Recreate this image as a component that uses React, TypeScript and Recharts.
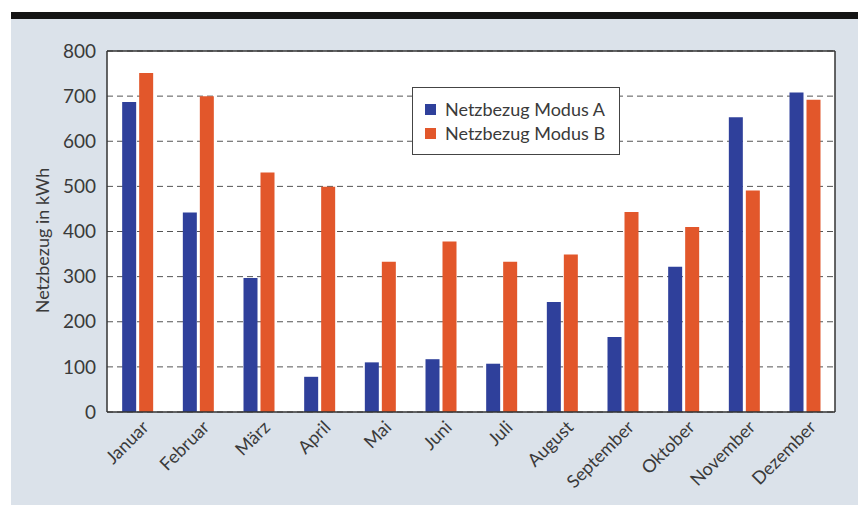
import React from 'react'
import { BarChart, Bar, XAxis, YAxis, CartesianGrid, Legend } from 'recharts'

const months = ['Januar', 'Februar', 'März', 'April', 'Mai', 'Juni', 'Juli', 'August', 'September', 'Oktober', 'November', 'Dezember']
const modusA = [687, 442, 297, 78, 110, 117, 107, 244, 166, 322, 653, 708]
const modusB = [751, 700, 531, 499, 333, 378, 333, 349, 443, 410, 491, 692]
const yTicks = [0, 100, 200, 300, 400, 500, 600, 700, 800]

const data = months.map((m, i) => ({ month: m, a: modusA[i], b: modusB[i] }))

const FONT = 'Lato, "Open Sans", sans-serif'
const TEXT = '#3a3a3a'
const BLUE = '#2f409b'
const ORANGE = '#e2572b'

const MonthTick = (props: any) => {
  const { x, y, payload } = props
  return (
    <g transform={`translate(${x + 8},${y + 10})`}>
      <text
        textAnchor="end"
        transform="rotate(-45)"
        fontSize={18}
        fontFamily={FONT}
        fill={TEXT}
        dy="0.35em"
      >
        {payload.value}
      </text>
    </g>
  )
}

// rotated axis title, sits a bit below the plot's middle like the original
const YTitle = (props: any) => {
  const { viewBox } = props
  const cx = viewBox.x + 42
  const cy = viewBox.y + viewBox.height / 2 + 9
  return (
    <text
      x={cx}
      y={cy}
      transform={`rotate(-90, ${cx}, ${cy})`}
      textAnchor="middle"
      dominantBaseline="central"
      fontSize={18}
      fontFamily={FONT}
      fill={TEXT}
    >
      Netzbezug in kWh
    </text>
  )
}

const LegendBox = (props: any) => {
  const { payload } = props
  return (
    <div
      style={{
        background: '#fff',
        border: '1.5px solid #444',
        padding: '9px 14px 9px 12px',
        fontFamily: FONT,
        fontSize: 18,
        color: TEXT,
        lineHeight: '24px',
      }}
    >
      {(payload || []).map((p: any) => (
        <div key={p.value} style={{ display: 'flex', alignItems: 'center' }}>
          <span style={{ width: 11, height: 11, background: p.color, marginRight: 9, display: 'inline-block' }} />
          {p.value}
        </div>
      ))}
    </div>
  )
}

export default function App() {
  return (
    <div style={{ position: 'relative', width: 858, height: 505, background: '#fff', overflow: 'hidden' }}>
      <style>{'body{margin:0}'}</style>
      <div style={{ position: 'absolute', top: 12, left: 11, right: 0, height: 7, background: '#141414' }} />
      <div style={{ position: 'absolute', top: 19, left: 11, right: 0, bottom: 0, background: '#dbe2ea' }} />
      <div style={{ position: 'absolute', top: 0, left: 0 }}>
        <BarChart
          width={858}
          height={505}
          data={data}
          margin={{ top: 50, right: 22, bottom: 0, left: 0 }}
          barCategoryGap="25%"
          barGap={3}
        >
          <CartesianGrid vertical={false} stroke="#555" strokeDasharray="6 4" fill="#fff" />
          <XAxis
            dataKey="month"
            interval={0}
            tickLine={false}
            tickSize={0}
            axisLine={{ stroke: '#333', strokeWidth: 1.5 }}
            tick={<MonthTick />}
            height={93}
          />
          <XAxis
            xAxisId="top"
            dataKey="month"
            orientation="top"
            height={1}
            tick={false}
            tickLine={false}
            axisLine={{ stroke: '#333', strokeWidth: 1.5 }}
          />
          <YAxis
            domain={[0, 800]}
            ticks={yTicks}
            width={107}
            tickLine={false}
            tickSize={0}
            tickMargin={11}
            axisLine={{ stroke: '#333', strokeWidth: 1.5 }}
            tick={{ fontSize: 19, fill: TEXT, fontFamily: FONT }}
            label={<YTitle />}
          />
          <YAxis
            yAxisId="right"
            orientation="right"
            domain={[0, 800]}
            width={1}
            tick={false}
            tickLine={false}
            axisLine={{ stroke: '#333', strokeWidth: 1.5 }}
          />
          <Legend
            content={<LegendBox />}
            layout="vertical"
            align="center"
            verticalAlign="middle"
            wrapperStyle={{ position: 'absolute', top: 87, left: 412, width: 'auto' }}
          />
          <Bar dataKey="a" name="Netzbezug Modus A" fill={BLUE} isAnimationActive={false} />
          <Bar dataKey="b" name="Netzbezug Modus B" fill={ORANGE} isAnimationActive={false} />
        </BarChart>
      </div>
    </div>
  )
}
